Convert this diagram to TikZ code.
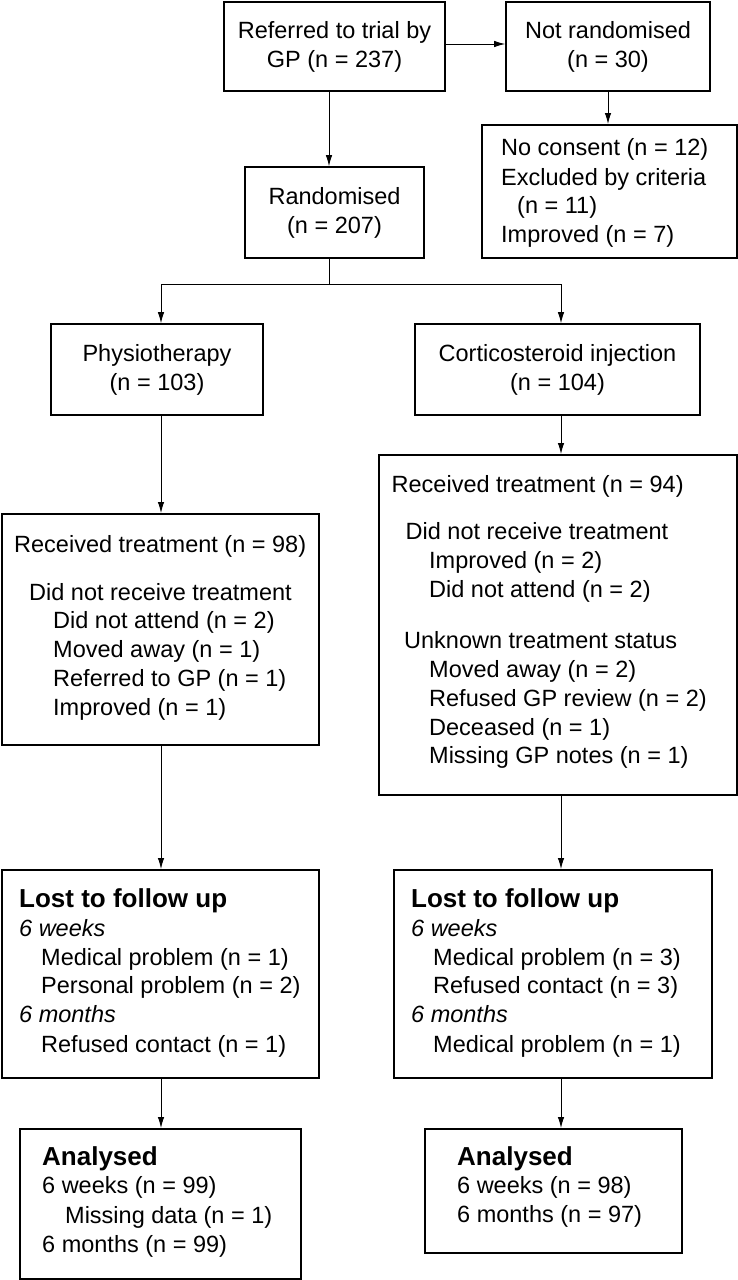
\documentclass[tikz,border=0pt]{standalone}
\usepackage{fontspec}
\setmainfont{Liberation Sans}
\usetikzlibrary{arrows.meta}
\begin{document}
\begin{tikzpicture}[x=1pt,y=-1pt,
  box/.style={draw, line width=1.6pt, inner sep=0pt, anchor=north west},
  cbox/.style={draw, line width=1.6pt, inner sep=0pt, align=center, font=\fontsize{23.5}{29}\selectfont},
  lt/.style={anchor=base west, inner sep=0pt, font=\fontsize{23.5}{29}\selectfont},
  bt/.style={lt, font=\fontsize{26}{29}\selectfont\bfseries},
  it/.style={lt, font=\fontsize{23.5}{29}\selectfont\itshape},
  conn/.style={line width=0.9pt, -{Latex[length=11pt,width=6.5pt]}},
  plain/.style={line width=0.9pt}]
\useasboundingbox[fill=white] (0,0) rectangle (738,1280);

% centred boxes
\node[cbox, minimum width=221pt, minimum height=89pt] (A) at (334.5,46.5) {Referred to trial by\\GP (n = 237)};
\node[cbox, minimum width=204pt, minimum height=89pt] (B) at (608,46.5) {Not randomised\\(n = 30)};
\node[cbox, minimum width=179pt, minimum height=91pt] (D) at (334.5,212.5) {Randomised\\(n = 207)};
\node[cbox, minimum width=212pt, minimum height=91pt] (P) at (157,369.5) {Physiotherapy\\(n = 103)};
\node[cbox, minimum width=285pt, minimum height=91pt] (Co) at (557.5,369.5) {Corticosteroid injection\\(n = 104)};

% left-aligned boxes
\node[box, minimum width=255pt, minimum height=133pt] (C) at (481,124) {};
\node[box, minimum width=317pt, minimum height=231pt] (R98) at (1,513) {};
\node[box, minimum width=358pt, minimum height=340pt] (R94) at (378,454) {};
\node[box, minimum width=317pt, minimum height=208pt] (L1) at (1,869) {};
\node[box, minimum width=318pt, minimum height=208pt] (L2) at (393,869) {};
\node[box, minimum width=281pt, minimum height=150pt] (An1) at (19,1128) {};
\node[box, minimum width=257pt, minimum height=124pt] (An2) at (424,1128) {};

% texts of C
\node[lt] (c1) at (501,155) {No consent (n = 12)};
\node[lt] (c2) at (501,185) {Excluded by criteria};
\node[lt] (c3) at (517,213) {(n = 11)};
\node[lt] (c4) at (501,242) {Improved (n = 7)};

% texts of R98
\node[lt] (r1) at (14,552) {Received treatment (n = 98)};
\node[lt] (r2) at (29,600) {Did not receive treatment};
\node[lt] (r3) at (53,628.5) {Did not attend (n = 2)};
\node[lt] (r4) at (53,657.5) {Moved away (n = 1)};
\node[lt] (r5) at (53,686.5) {Referred to GP (n = 1)};
\node[lt] (r6) at (53,715) {Improved (n = 1)};

% texts of R94
\node[lt] (s1) at (391.5,492) {Received treatment (n = 94)};
\node[lt] (s2) at (405.5,539) {Did not receive treatment};
\node[lt] (s3) at (429,568) {Improved (n = 2)};
\node[lt] (s4) at (429,597) {Did not attend (n = 2)};
\node[lt] (s5) at (404,648) {Unknown treatment status};
\node[lt] (s6) at (429,677) {Moved away (n = 2)};
\node[lt] (s7) at (429,706) {Refused GP review (n = 2)};
\node[lt] (s8) at (429,735) {Deceased (n = 1)};
\node[lt] (s9) at (429,763) {Missing GP notes (n = 1)};

% texts of L1
\node[bt] (l1) at (19,907) {Lost to follow up};
\node[it] (l2) at (19,936) {6 weeks};
\node[lt] (l3) at (41,965) {Medical problem (n = 1)};
\node[lt] (l4) at (41,993.5) {Personal problem (n = 2)};
\node[it] (l5) at (19,1022) {6 months};
\node[lt] (l6) at (41,1052) {Refused contact (n = 1)};

% texts of L2
\node[bt] (m1) at (411,907) {Lost to follow up};
\node[it] (m2) at (411,936) {6 weeks};
\node[lt] (m3) at (433,965) {Medical problem (n = 3)};
\node[lt] (m4) at (433,993.5) {Refused contact (n = 3)};
\node[it] (m5) at (411,1022) {6 months};
\node[lt] (m6) at (433,1052) {Medical problem (n = 1)};

% texts of An1
\node[bt] (a1) at (42,1165) {Analysed};
\node[lt] (a2) at (42,1193.5) {6 weeks (n = 99)};
\node[lt] (a3) at (65,1223) {Missing data (n = 1)};
\node[lt] (a4) at (42,1252) {6 months (n = 99)};

% texts of An2
\node[bt] (b1) at (457,1165) {Analysed};
\node[lt] (b2) at (457,1193.5) {6 weeks (n = 98)};
\node[lt] (b3) at (457,1222) {6 months (n = 97)};

% connector coordinates
\coordinate (ax) at (329,0);
\coordinate (ay) at (0,44);
\coordinate (br) at (329,284);
\coordinate (colL) at (161,0);
\coordinate (colR) at (561,0);

\draw[conn] (A.east |- ay) -- (B.west |- ay);
\draw[conn] (A.south -| ax) -- (D.north -| ax);
\draw[conn] (B.south) -- (B.south |- C.north);
\draw[conn] (D.south -| ax) -- (br) -| (P.north -| colL);
\draw[conn] (br) -| (Co.north -| colR);

\draw[conn] (P.south -| colL) -- (R98.north -| colL);
\draw[conn] (R98.south -| colL) -- (L1.north -| colL);
\draw[conn] (L1.south -| colL) -- (An1.north -| colL);

\draw[conn] (Co.south -| colR) -- (R94.north -| colR);
\draw[conn] (R94.south -| colR) -- (L2.north -| colR);
\draw[conn] (L2.south -| colR) -- (An2.north -| colR);
\end{tikzpicture}
\end{document}
